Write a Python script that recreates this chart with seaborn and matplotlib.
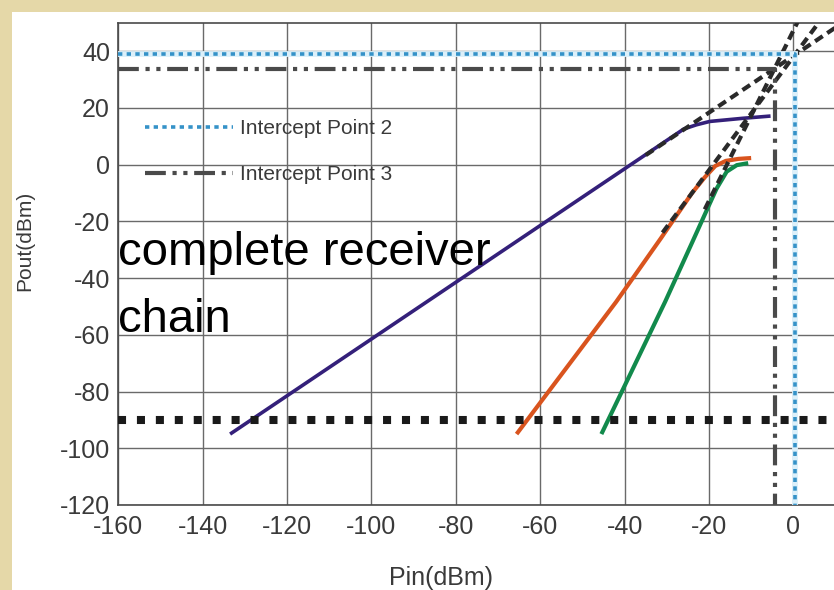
import matplotlib
matplotlib.use("Agg")
import matplotlib.pyplot as plt
import pandas as pd
import seaborn as sns
from matplotlib.patches import Rectangle

# ---- data (dBm) -------------------------------------------------------
# measured output power of the complete receiver chain
pin_chain = [-133.5, -26.0, -23.0, -19.8, -12.0, -5.4]
pout_chain = [-95.0, 12.5, 14.0, 15.2, 16.3, 17.1]
# second-order product
pin_second = [-65.6, -42.0, -31.4, -24.0, -21.0, -18.5, -16.0, -13.0, -10.0]
pout_second = [-95.0, -48.4, -26.0, -10.0, -4.5, -0.5, 1.3, 2.0, 2.3]
# third-order product
pin_third = [-45.5, -30.4, -24.0, -20.5, -18.2, -15.8, -13.4, -10.7]
pout_third = [-95.0, -48.4, -27.5, -16.0, -8.5, -2.5, -0.2, 0.5]

# straight-line extrapolations of the linear regions
ext1_pin, ext1_pout = [-35.0, 12.0], [3.3, 50.3]
ext2_pin, ext2_pout = [-31.0, 6.5], [-24.0, 51.0]
ext3_pin, ext3_pout = [-21.0, 1.5], [-15.8, 51.7]

# intercept points (Pin, Pout)
ip2_pin, ip2_pout = 0.4, 38.8
ip3_pin, ip3_pout = -4.3, 33.8

# sensitivity floor
floor_pout = -90.0

x_ticks = [-160, -140, -120, -100, -80, -60, -40, -20, 0]
y_ticks = [-120, -100, -80, -60, -40, -20, 0, 20, 40]
x_min, x_max = -160, 12
y_min, y_max = -120, 50

# ---- style ------------------------------------------------------------
sns.set_style("white")
plt.rcParams["font.family"] = ["Liberation Sans", "DejaVu Sans"]
plt.rcParams["axes.unicode_minus"] = False

W, H = 834, 590
fig = plt.figure(figsize=(W / 100, H / 100), dpi=100, facecolor="#e5d8a8")
fig.add_artist(Rectangle((12 / W, 0), 1, (H - 12) / H, transform=fig.transFigure,
                         facecolor="white", edgecolor="none", zorder=-5))

px_per_x = 4.219
left_px, bottom_px, top_px = 118.3, 505.0, 22.7
ax = fig.add_axes([left_px / W, (H - bottom_px) / H,
                   (x_max - x_min) * px_per_x / W, (bottom_px - top_px) / H])
ax.set_facecolor("white")

# ---- curves -----------------------------------------------------------
curves = pd.concat([
    pd.DataFrame({"Pin": pin_chain, "Pout": pout_chain, "stage": "chain"}),
    pd.DataFrame({"Pin": pin_second, "Pout": pout_second, "stage": "second"}),
    pd.DataFrame({"Pin": pin_third, "Pout": pout_third, "stage": "third"}),
], ignore_index=True)
colors = {"chain": "#34207a", "second": "#d9541e", "third": "#128a4c"}
widths = {"chain": 2.6, "second": 3.0, "third": 3.0}
for stage, sub in curves.groupby("stage"):
    sns.lineplot(data=sub, x="Pin", y="Pout", sort=False, estimator=None,
                 color=colors[stage], linewidth=widths[stage], ax=ax,
                 legend=False, zorder=3, solid_capstyle="butt")

# extrapolated dashed lines
for xs, ys in [(ext1_pin, ext1_pout), (ext2_pin, ext2_pout), (ext3_pin, ext3_pout)]:
    ax.plot(xs, ys, color="#2a2a2a", linewidth=3.0, dashes=(2.2, 1.3),
            dash_capstyle="butt", zorder=4)

# sensitivity floor
ax.plot([x_min, x_max], [floor_pout, floor_pout], color="#1a1a1a",
        linewidth=5.8, dashes=(1.0, 1.35), dash_capstyle="butt", zorder=4)

# intercept point markers: horizontal to the point, then down to the axis
ip2_x = [x_min, ip2_pin, ip2_pin]
ip2_y = [ip2_pout, ip2_pout, y_min]
ip3_x = [x_min, ip3_pin, ip3_pin]
ip3_y = [ip3_pout, ip3_pout, y_min]
ax.plot(ip2_x, ip2_y, color="#dcf0fa", linewidth=4.2, zorder=4.5,
        solid_joinstyle="miter")
ip2_line, = ax.plot(ip2_x, ip2_y, color="#3592c8", linewidth=2.6,
                    dashes=(1.2, 1.2), dash_capstyle="butt", zorder=5,
                    label="Intercept Point 2")
ip3_line, = ax.plot(ip3_x, ip3_y, color="#4a4a4a", linewidth=3.0,
                    dashes=(5.0, 1.6, 1.0, 1.6, 1.0, 1.6), dash_capstyle="butt",
                    zorder=5, label="Intercept Point 3")

# ---- axes -------------------------------------------------------------
ax.set_xlim(x_min, x_max)
ax.set_ylim(y_min, y_max)
ax.set_xticks(x_ticks)
ax.set_yticks(y_ticks)
ax.grid(True, color="#6a6a6a", linewidth=1.0, zorder=0)
ax.set_axisbelow(True)
ax.tick_params(axis="both", length=0, labelsize=18, labelcolor="#3a3a3a")
ax.tick_params(axis="x", pad=7)
ax.tick_params(axis="y", pad=6)
for side in ["left", "top", "bottom"]:
    ax.spines[side].set_color("#4a4a4a")
    ax.spines[side].set_linewidth(1.2)
ax.spines["right"].set_visible(False)

ax.set_xlabel("Pin(dBm)", fontsize=18, color="#3a3a3a")
ax.set_ylabel("Pout(dBm)", fontsize=15, color="#3a3a3a")
ax.xaxis.set_label_coords(0.445, -0.126)
ax.yaxis.set_label_coords(-0.116, 0.547)

leg = ax.legend(handles=[ip2_line, ip3_line], loc="upper left",
                bbox_to_anchor=(145 / W, (H - 119) / H),
                bbox_transform=fig.transFigure, frameon=False, fontsize=15,
                handlelength=4.2, handletextpad=0.35, labelspacing=1.3,
                borderpad=0, borderaxespad=0)
for t in leg.get_texts():
    t.set_color("#3a3a3a")

ax.text(x_min, -35.3, "complete receiver", fontsize=34, color="black",
        ha="left", va="baseline", zorder=6)
ax.text(x_min, -59.0, "chain", fontsize=34, color="black",
        ha="left", va="baseline", zorder=6)

fig.savefig("out.png", dpi=100, facecolor=fig.get_facecolor())
